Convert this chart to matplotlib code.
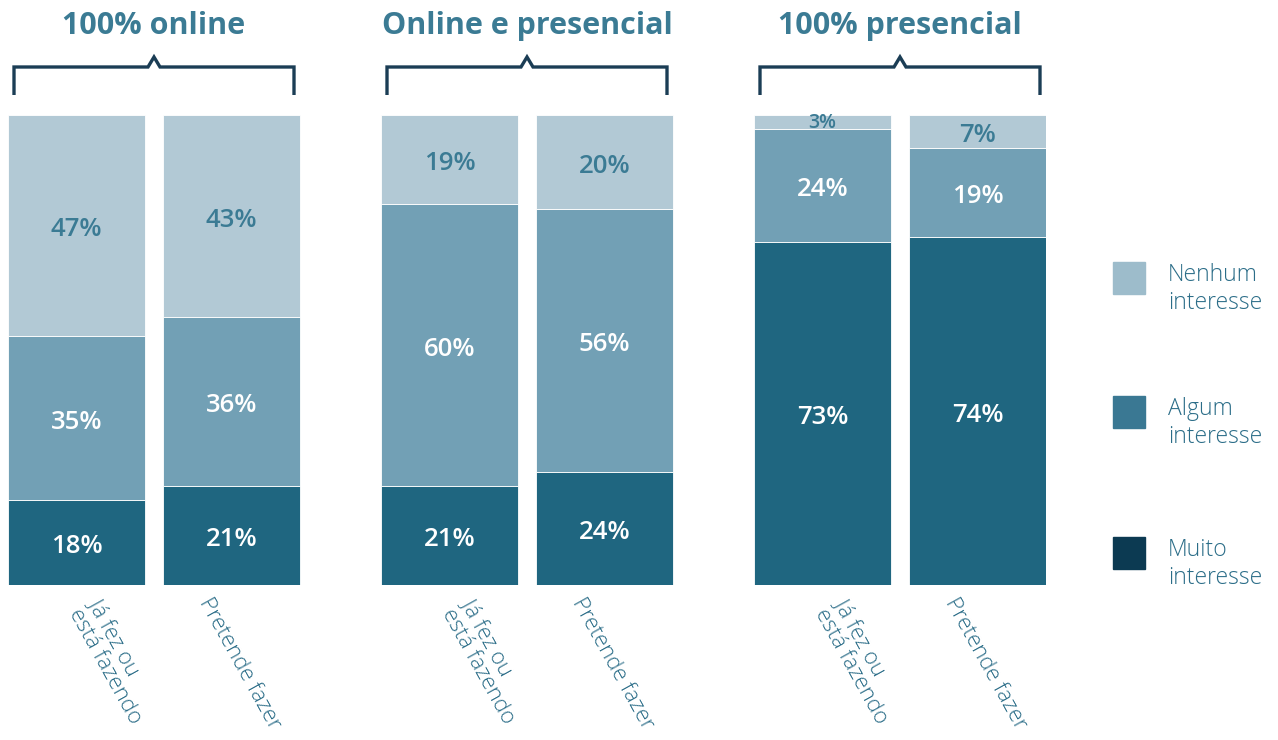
import matplotlib
matplotlib.use("Agg")
import matplotlib.pyplot as plt
from matplotlib.patches import Rectangle
from matplotlib.transforms import blended_transform_factory, offset_copy
import numpy as np

# ---- data ----
groups = ["100% online", "Online e presencial", "100% presencial"]
bar_labels = ["Já fez ou\nestá fazendo", "Pretende fazer"]
muito = [[18, 21], [21, 24], [73, 74]]
algum = [[35, 36], [60, 56], [24, 19]]
nenhum = [[47, 43], [19, 20], [3, 7]]
legend_labels = ["Nenhum\ninteresse", "Algum\ninteresse", "Muito\ninteresse"]

# ---- style ----
c_muito, c_algum, c_nenhum = "#1f6680", "#72a0b5", "#b2c9d5"
leg_colors = ["#9dbccb", "#3a7893", "#0c3a52"]
teal_txt = "#3b7b94"
bracket_c = "#1b3d55"
W, H = 1278, 740
fig = plt.figure(figsize=(W / 100, H / 100), dpi=100)

def fx(px):
    return px / W

def fy(py):
    return 1 - py / H

ax_l, ax_r, ax_t, ax_b = 8, 1046, 115, 585
ax = fig.add_axes([fx(ax_l), fy(ax_b), fx(ax_r - ax_l), (ax_b - ax_t) / H])
grp_sp = 373.0
off = 77.5 / grp_sp
bw = 137 / grp_sp
ax.set_xlim((ax_l - 154) / grp_sp, (ax_r - 154) / grp_sp)
ax.set_ylim(0, 100)
ax.axis("off")

num_font = dict(family="Open Sans", fontweight="semibold", fontsize=18.5)
dy = 0.9
for g in range(3):
    for b in range(2):
        x = g + (b - 0.5) * 2 * off
        m, a, n = muito[g][b], algum[g][b], nenhum[g][b]
        ax.bar(x, m, width=bw, color=c_muito, edgecolor="white", linewidth=0.6)
        ax.bar(x, a, width=bw, bottom=m, color=c_algum, edgecolor="white", linewidth=0.6)
        ax.bar(x, n, width=bw, bottom=m + a, color=c_nenhum, edgecolor="white", linewidth=0.6)
        ax.text(x, m / 2 - dy, f"{m}%", ha="center", va="center", color="white", **num_font)
        ax.text(x, m + a / 2 - dy, f"{a}%", ha="center", va="center", color="white", **num_font)
        if n >= 5:
            ax.text(x, m + a + n / 2 - dy, f"{n}%", ha="center", va="center",
                    color=teal_txt, **num_font)
        else:
            ax.text(x, m + a + n / 2 - 0.2, f"{n}%", ha="center", va="center",
                    color=teal_txt, family="Open Sans", fontweight="semibold", fontsize=14)
        # x label
        tr = offset_copy(ax.transData, fig=fig, x=(27 if b == 0 else -19), y=-9, units="dots")
        ax.text(x, 0, bar_labels[b], rotation=-61, rotation_mode="anchor", ha="left", va="top",
                transform=tr, fontsize=16, color="#2b6d88", family="Open Sans",
                fontweight="light", linespacing=1.15, multialignment="left")

# titles and brackets
bt = blended_transform_factory(ax.transData, ax.transAxes)
def ay(py):
    return (ax_b - py) / (ax_b - ax_t)

half = 140 / grp_sp
cw = 6 / grp_sp
for g, title in enumerate(groups):
    ax.text(g, ay(26), title, ha="center", va="center", transform=bt, color=teal_txt,
            family="Open Sans", fontweight="bold", fontsize=22)
    xs = [g - half, g - half, g - cw, g, g + cw, g + half, g + half]
    ys = [ay(95), ay(67), ay(67), ay(57), ay(67), ay(67), ay(95)]
    ax.plot(xs, ys, transform=bt, color=bracket_c, lw=2.4, clip_on=False,
            solid_joinstyle="miter", solid_capstyle="butt")

# legend
leg_y = [262, 396, 537]
for lab, col, y in zip(legend_labels, leg_colors, leg_y):
    fig.add_artist(Rectangle((fx(1113), fy(y + 32)), fx(32), 32 / H, color=col,
                             transform=fig.transFigure))
    fig.text(fx(1168), fy(y + 27), lab, ha="left", va="center", fontsize=16.5,
             color="#2b6d88", family="Open Sans", fontweight="light", linespacing=1.25)

fig.savefig("out.png", dpi=100)
